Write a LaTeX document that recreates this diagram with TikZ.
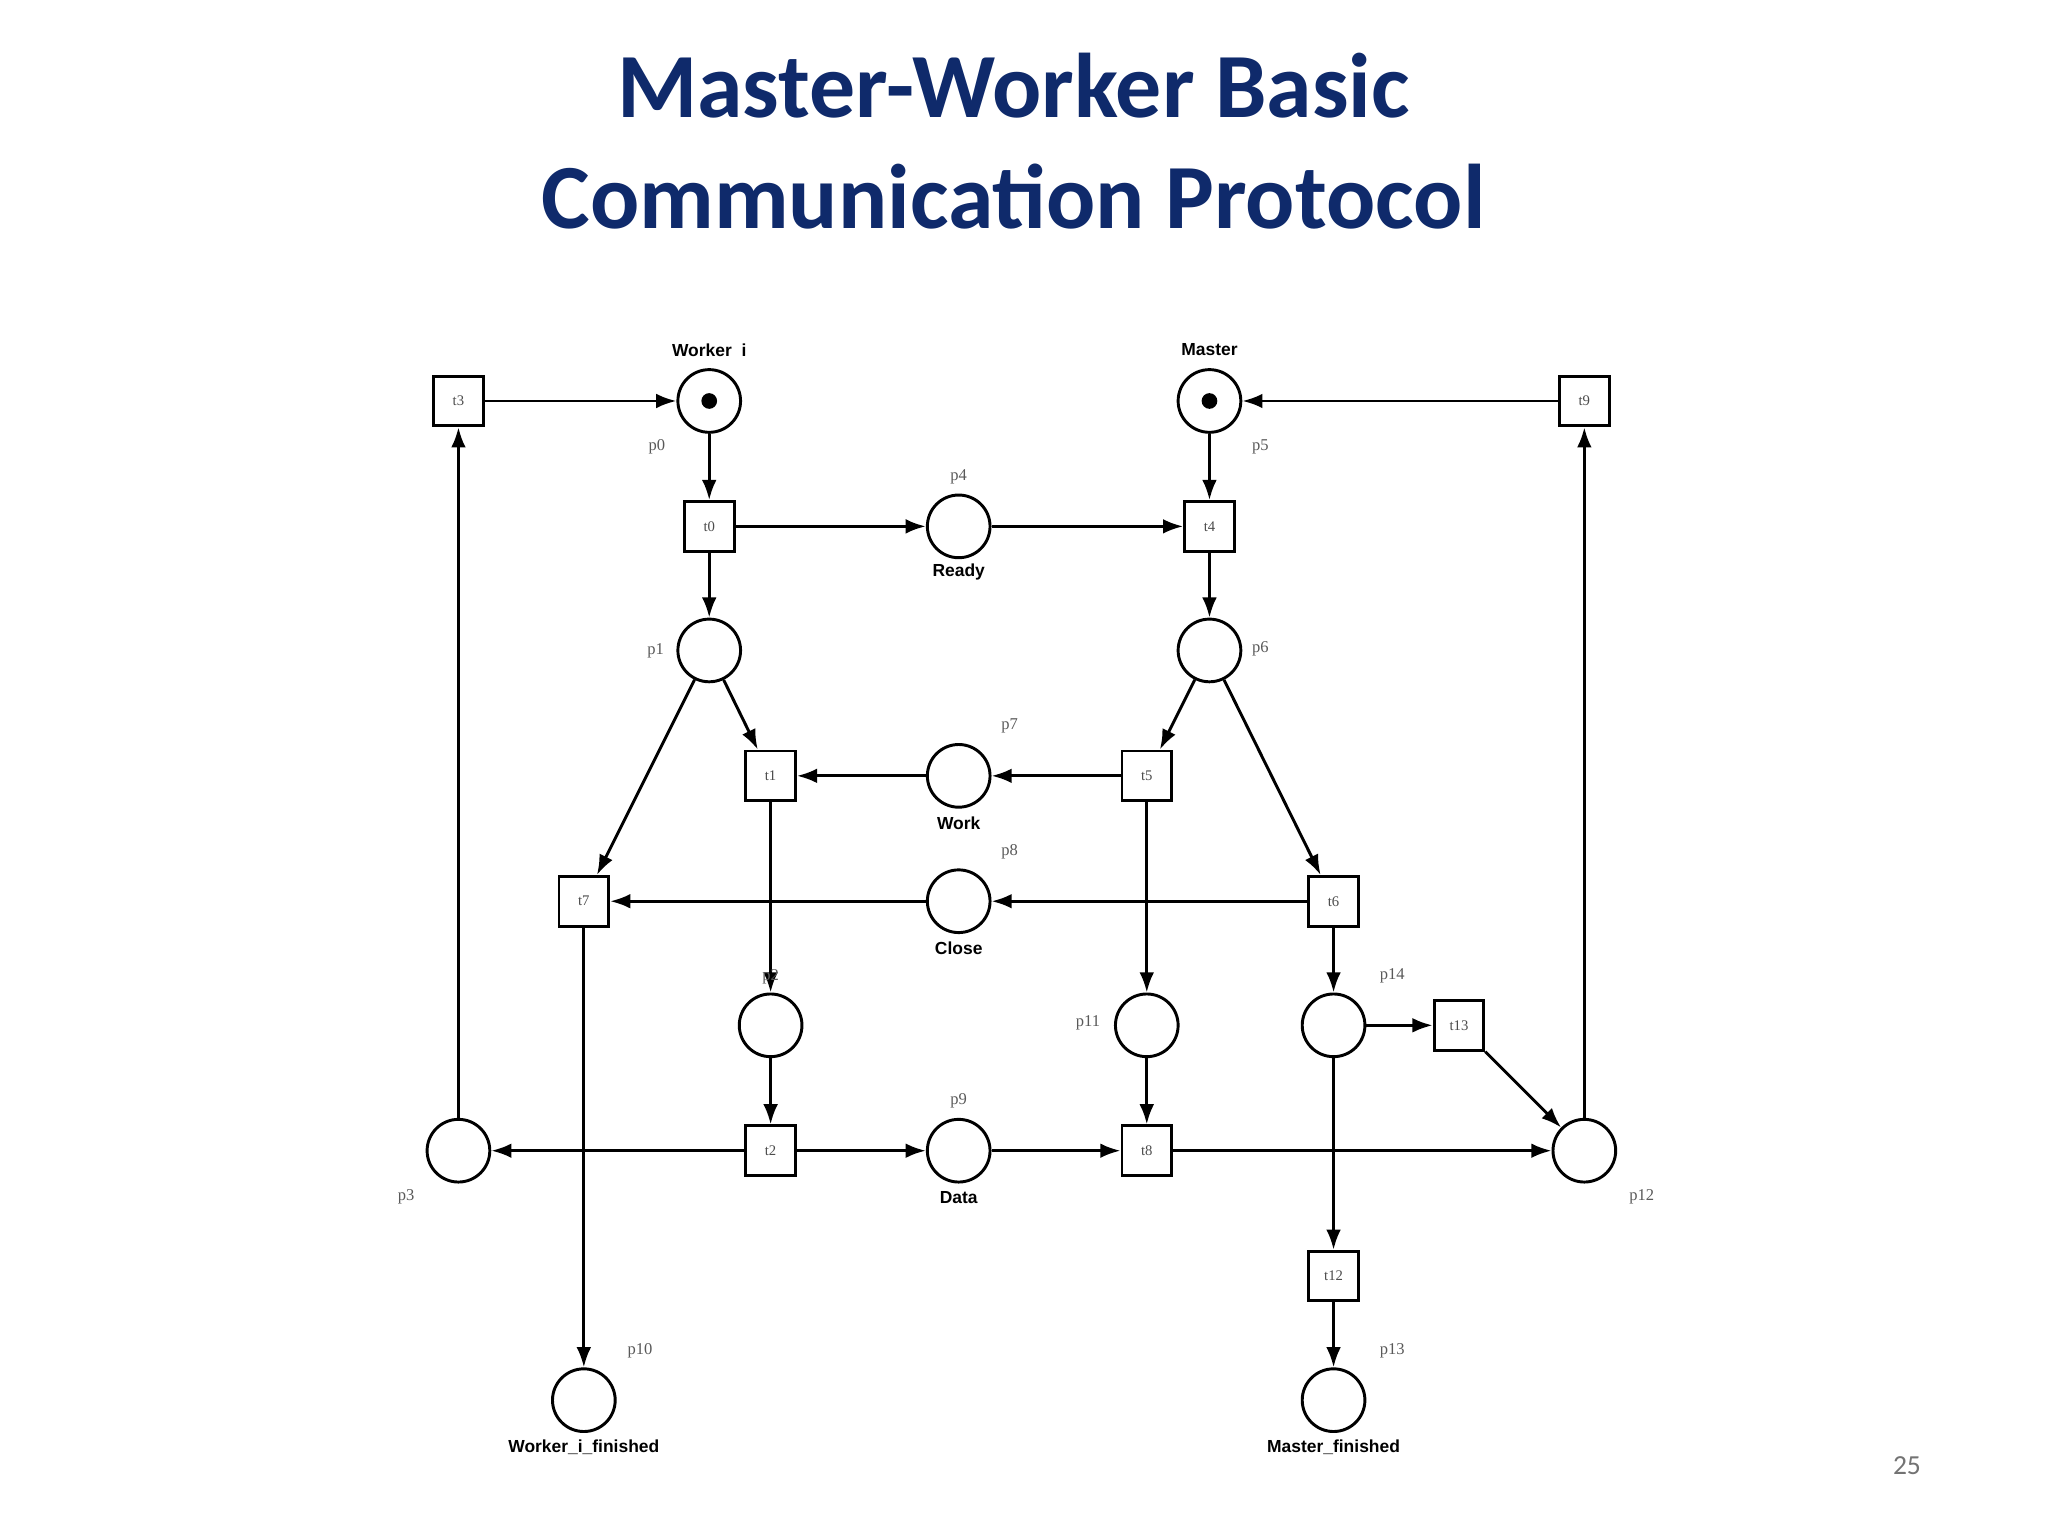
\documentclass[tikz,border=0pt]{standalone}
\usepackage{fontspec}
\setmainfont{Liberation Serif}
\newfontfamily\titlefont{Carlito}
\newfontfamily\lblfont{Liberation Sans}
\usetikzlibrary{arrows.meta}
\definecolor{titleblue}{HTML}{0F2A6B}
\begin{document}
\begin{tikzpicture}[x=0.05cm,y=-0.05cm,
  pnplace/.style={circle,draw,line width=3.2pt,minimum size=48*0.05cm,inner sep=0pt},
  pntrans/.style={rectangle,draw,line width=3.2pt,minimum size=38*0.05cm,inner sep=0pt,font=\fontsize{16}{16}\selectfont\color{black!70}},
  pnarc/.style={line width=3.2pt,-{Latex[length=22pt,width=16pt]}},
  namelbl/.style={font=\lblfont\bfseries\fontsize{19}{20}\selectfont},
  pnlbl/.style={font=\fontsize{18}{18}\selectfont\color{black!65}},
  pntok/.style={circle,fill,inner sep=0pt,minimum size=12*0.05cm}]
\fill[white] (0,0) rectangle (1568,1176);
\useasboundingbox (0,0) rectangle (1568,1176);
\node[font=\titlefont\bfseries\fontsize{100}{120}\selectfont,text=titleblue,align=center] (title) at (776,108) {Master-Worker Basic\\Communication Protocol};
\node[font=\titlefont\fontsize{30}{30}\selectfont,text=black!55] (pg) at (1460,1122) {25};
% places
\node[pnplace] (p0) at (543,307) {};
\node[pntok] (k0) at (543,307) {};
\node[pnplace] (p5) at (926,307) {};
\node[pntok] (k5) at (926,307) {};
\node[pnplace] (p4) at (734,403) {};
\node[pnplace] (p1) at (543,498) {};
\node[pnplace] (p6) at (926,498) {};
\node[pnplace] (p7) at (734,594) {};
\node[pnplace] (p8) at (734,690) {};
\node[pnplace] (p2) at (590,785) {};
\node[pnplace] (p11) at (878,785) {};
\node[pnplace] (p14) at (1021,785) {};
\node[pnplace] (p3) at (351,881) {};
\node[pnplace] (p9) at (734,881) {};
\node[pnplace] (p12) at (1213,881) {};
\node[pnplace] (p10) at (447,1072) {};
\node[pnplace] (p13) at (1021,1072) {};
% transitions
\node[pntrans] (t3) at (351,307) {t3};
\node[pntrans] (t9) at (1213,307) {t9};
\node[pntrans] (t0) at (543,403) {t0};
\node[pntrans] (t4) at (926,403) {t4};
\node[pntrans] (t1) at (590,594) {t1};
\node[pntrans] (t5) at (878,594) {t5};
\node[pntrans] (t7) at (447,690) {t7};
\node[pntrans] (t6) at (1021,690) {t6};
\node[pntrans] (t13) at (1117,785) {t13};
\node[pntrans] (t2) at (590,881) {t2};
\node[pntrans] (t8) at (878,881) {t8};
\node[pntrans] (t12) at (1021,977) {t12};
% arcs
\draw[pnarc] (t3) -- (p0);
\draw[pnarc] (p0) -- (t0);
\draw[pnarc] (t0) -- (p4);
\draw[pnarc] (p4) -- (t4);
\draw[pnarc] (p5) -- (t4);
\draw[pnarc] (t9) -- (p5);
\draw[pnarc] (t0) -- (p1);
\draw[pnarc] (t4) -- (p6);
\draw[pnarc] (p1) -- (t1);
\draw[pnarc] (p1) -- (t7);
\draw[pnarc] (p6) -- (t5);
\draw[pnarc] (p6) -- (t6);
\draw[pnarc] (t5) -- (p7);
\draw[pnarc] (p7) -- (t1);
\draw[pnarc] (t6) -- (p8);
\draw[pnarc] (p8) -- (t7);
\draw[pnarc] (t1) -- (p2);
\draw[pnarc] (t5) -- (p11);
\draw[pnarc] (t6) -- (p14);
\draw[pnarc] (p14) -- (t13);
\draw[pnarc] (t13) -- (p12);
\draw[pnarc] (p14) -- (t12);
\draw[pnarc] (t12) -- (p13);
\draw[pnarc] (t7) -- (p10);
\draw[pnarc] (p2) -- (t2);
\draw[pnarc] (p11) -- (t8);
\draw[pnarc] (t2) -- (p3);
\draw[pnarc] (t2) -- (p9);
\draw[pnarc] (p9) -- (t8);
\draw[pnarc] (t8) -- (p12);
\draw[pnarc] (p3) -- (t3);
\draw[pnarc] (p12) -- (t9);
% labels
\node[namelbl] (lw) at (543,268) {Worker\ \ i};
\node[namelbl] (lm) at (926,268) {Master};
\node[namelbl] (lr) at (734,438) {Ready};
\node[namelbl] (lwk) at (734,630) {Work};
\node[namelbl] (lc) at (734,726) {Close};
\node[namelbl] (ld) at (734,917) {Data};
\node[namelbl] (lwf) at (447,1108) {Worker\_i\_finished};
\node[namelbl] (lmf) at (1021,1108) {Master\_finished};
\node[pnlbl] (lp0) at (503,342) {p0};
\node[pnlbl] (lp5) at (965,342) {p5};
\node[pnlbl] (lp4) at (734,365) {p4};
\node[pnlbl] (lp1) at (502,498) {p1};
\node[pnlbl] (lp6) at (965,497) {p6};
\node[pnlbl] (lp7) at (773,556) {p7};
\node[pnlbl] (lp8) at (773,652) {p8};
\node[pnlbl] (lp2) at (590,748) {p2};
\node[pnlbl] (lp11) at (833,783) {p11};
\node[pnlbl] (lp14) at (1066,747) {p14};
\node[pnlbl] (lp9) at (734,843) {p9};
\node[pnlbl] (lp3) at (311,916) {p3};
\node[pnlbl] (lp12) at (1257,916) {p12};
\node[pnlbl] (lp10) at (490,1034) {p10};
\node[pnlbl] (lp13) at (1066,1034) {p13};
\end{tikzpicture}
\end{document}
